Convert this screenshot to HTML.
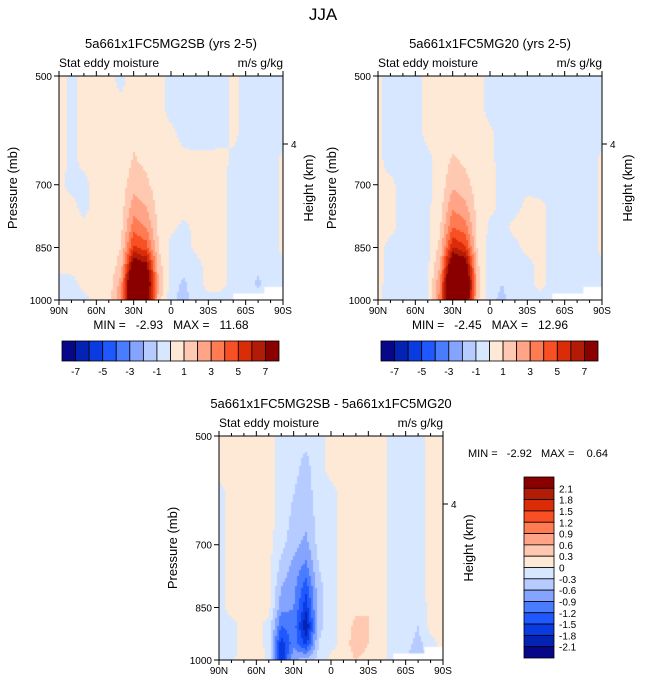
<!DOCTYPE html>
<html><head><meta charset="utf-8">
<style>
body{margin:0;background:#fff;}
#root{position:relative;width:647px;height:684px;overflow:hidden;font-family:"Liberation Sans",sans-serif;}
svg text{font-family:"Liberation Sans",sans-serif;fill:#000;white-space:pre;}
canvas{position:absolute;}
</style></head>
<body>
<div id="root">
<canvas id="c1" width="224" height="224" style="left:59px;top:76px"></canvas>
<canvas id="c2" width="224" height="224" style="left:378px;top:76px"></canvas>
<canvas id="c3" width="224" height="224" style="left:219px;top:436px"></canvas>
<svg id="svg" width="647" height="684" style="position:absolute;left:0;top:0"></svg>
</div>
<script>
// ---- data ----
const lats = [90,80,70,60,50,40,30,20,10,0,-10,-20,-30,-40,-50,-60,-70,-80,-90];
const pressures = [500,550,600,650,700,750,800,850,900,950,1000];
const latTickLabels = ['90N','60N','30N','0','30S','60S','90S'];
const pressureTicks = [500,700,850,1000];
const levelsMain = [-7,-6,-5,-4,-3,-2,-1,0,1,2,3,4,5,6,7];
const levelsMainLabels = ['-7','-5','-3','-1','1','3','5','7'];
const levelsDiff = [-2.1,-1.8,-1.5,-1.2,-0.9,-0.6,-0.3,0,0.3,0.6,0.9,1.2,1.5,1.8,2.1];
const levelsDiffLabels = ['2.1','1.8','1.5','1.2','0.9','0.6','0.3','0','-0.3','-0.6','-0.9','-1.2','-1.5','-1.8','-2.1'];
const palette = ['#07078a','#0422b4','#0a3be0','#1f58ff','#4a7cff','#85a4ff','#b6cbff','#d6e7ff','#fde9d6','#ffc9b1','#ffa487','#ff7c53','#f84f25','#db2c08','#b21b05','#8a0000'];
const field1 = [
[0.3,-0.2,0.3,0.3,0.3,-0.3,0.5,0.5,0.3,-0.3,-0.3,-0.3,-0.3,-0.3,0.2,-0.3,-0.3,-0.3,-0.3],
[0.3,-0.2,0.3,0.3,0.3,0.2,0.5,0.5,0.3,-0.3,-0.3,-0.3,-0.3,-0.3,0.2,-0.3,-0.3,-0.3,-0.3],
[0.3,-0.2,0.3,0.3,0.3,0.3,0.8,0.6,0.4,0.2,-0.2,-0.3,-0.3,-0.3,0.2,-0.3,-0.3,-0.3,-0.3],
[0.3,-0.2,0.2,0.3,0.3,0.4,1.1,0.8,0.4,0.3,0.2,0.2,0.2,0.3,-0.2,-0.3,-0.3,-0.3,0.2],
[0.2,-0.2,-0.2,0.3,0.3,0.5,1.6,1.2,0.5,0.3,0.3,0.3,0.3,0.2,-0.2,-0.3,-0.3,-0.3,0.2],
[0.2,0.2,-0.2,0.3,0.3,0.6,2.5,2.0,0.6,0.3,0.3,0.2,0.2,0.2,-0.2,-0.3,-0.3,-0.3,0.2],
[0.2,0.2,0.2,0.3,0.3,0.8,3.6,3.0,0.8,0.2,-0.2,0.2,0.2,0.2,-0.2,-0.3,-0.3,-0.3,0.2],
[0.2,0.2,0.3,0.3,0.3,1.0,5.2,4.5,1.0,-0.3,-0.4,0.2,0.3,0.2,-0.2,-0.3,-0.4,-0.3,0.2],
[0.2,0.3,0.3,0.3,0.3,1.5,8.5,7.5,1.5,-0.3,-0.6,-0.3,0.3,0.2,-0.2,-0.4,-0.7,-0.3,-0.2],
[-0.3,-0.3,0.3,0.3,0.4,2.5,11.5,9.5,2.0,-0.5,-1.2,-0.3,0.3,0.2,-0.2,-0.4,-1.2,-0.4,-0.3],
[-0.3,-0.3,-0.3,0.3,0.4,3.0,10.5,8.5,1.5,-0.6,-1.5,-0.4,-0.3,-0.2,-0.3,-0.3,-0.5,-0.3,-0.3]];
const field2 = [
[0.2,-0.3,-0.3,-0.3,0.2,0.3,0.4,0.4,0.3,-0.3,-0.3,-0.3,-0.3,-0.3,-0.3,-0.3,-0.3,-0.3,-0.3],
[0.2,-0.3,-0.3,-0.3,0.2,0.3,0.4,0.4,0.3,-0.3,-0.3,-0.3,-0.3,-0.3,-0.3,-0.3,-0.3,-0.3,-0.3],
[0.2,-0.3,-0.3,-0.3,0.2,0.3,0.5,0.5,0.3,0.2,-0.3,-0.3,-0.3,-0.3,-0.3,-0.3,-0.3,-0.3,-0.3],
[0.2,-0.3,-0.3,-0.3,-0.2,0.3,1.2,0.8,0.3,0.2,-0.3,-0.3,-0.3,-0.3,-0.3,-0.3,-0.3,-0.3,0.2],
[0.2,0.2,-0.3,-0.3,-0.2,0.4,1.8,1.4,0.5,0.2,-0.2,-0.3,-0.2,-0.3,-0.3,-0.3,-0.3,-0.3,0.2],
[0.2,0.2,-0.3,-0.3,-0.2,0.6,2.8,2.3,0.6,0.2,-0.2,-0.2,0.2,0.2,-0.2,-0.3,-0.3,-0.3,0.2],
[0.2,0.2,-0.3,-0.3,-0.2,0.9,4.0,3.5,0.7,-0.2,-0.2,0.2,0.3,0.2,-0.2,-0.3,-0.3,-0.3,0.2],
[0.2,-0.2,-0.3,-0.3,-0.2,1.3,6.0,5.2,0.8,-0.3,-0.3,-0.2,0.2,0.2,-0.2,-0.3,-0.3,-0.3,0.2],
[0.2,-0.2,-0.3,-0.3,-0.2,2.0,9.5,8.5,1.2,-0.4,-0.5,-0.3,-0.2,0.2,-0.2,-0.3,-0.7,-0.3,-0.2],
[0.2,-0.3,-0.3,-0.3,-0.2,3.0,12.5,10.5,1.5,-0.7,-1.0,-0.6,-0.2,0.2,-0.2,-0.3,-1.0,-0.4,-0.3],
[0.2,-0.3,-0.3,-0.3,-0.2,3.5,11.5,9.5,1.2,-0.8,-1.2,-0.5,-0.3,-0.2,-0.3,-0.3,-0.5,-0.3,-0.3]];
const field3 = [
[0.1,0.1,0.1,0.1,0.1,-0.1,-0.2,-0.2,-0.1,0.1,0.1,0.1,0.1,0.1,-0.1,-0.1,-0.1,0.1,0.1],
[0.1,0.1,0.1,0.1,0.1,-0.1,-0.2,-0.4,-0.1,0.1,0.1,0.1,0.1,0.1,-0.1,-0.1,-0.1,0.1,0.1],
[-0.1,0.1,0.1,0.1,0.1,-0.1,-0.3,-0.5,-0.1,-0.1,0.1,0.1,0.1,0.1,-0.1,-0.1,-0.1,0.1,0.1],
[-0.1,0.1,0.1,0.1,0.1,-0.1,-0.4,-0.5,-0.2,-0.1,0.1,0.1,0.1,0.1,-0.1,-0.1,-0.1,0.1,0.1],
[-0.1,0.1,0.1,0.1,0.1,-0.2,-0.5,-0.7,-0.2,-0.1,0.1,0.1,0.1,0.1,-0.1,-0.1,-0.1,0.1,0.1],
[-0.1,0.1,0.1,0.1,0.1,-0.4,-0.7,-1.0,-0.3,-0.1,0.1,0.1,0.1,0.1,-0.1,-0.1,-0.1,0.1,0.1],
[-0.1,0.1,0.1,0.1,0.1,-0.6,-0.8,-1.4,-0.4,-0.1,0.1,0.1,0.2,0.1,-0.1,-0.1,-0.1,0.1,0.1],
[-0.1,0.1,0.1,0.1,0.1,-0.8,-0.9,-1.7,-0.4,-0.1,0.1,0.2,0.3,0.1,-0.1,-0.1,-0.2,0.1,0.1],
[-0.1,-0.1,0.1,0.1,-0.1,-1.2,-1.0,-2.1,-0.4,-0.1,0.1,0.4,0.3,0.1,-0.1,-0.1,-0.3,0.1,0.1],
[-0.1,-0.1,0.1,0.1,-0.1,-1.7,-1.0,-1.6,-0.3,-0.1,0.1,0.5,0.3,0.1,-0.1,-0.2,-0.4,-0.1,0.1],
[-0.1,-0.1,0.2,0.3,-0.1,-1.8,-0.6,-0.5,-0.2,0.1,0.1,0.3,0.2,0.1,-0.1,-0.2,-0.6,-0.1,0.1]];

// ---- helpers ----
const NS='http://www.w3.org/2000/svg';
const svg=document.getElementById('svg');
const W=224,H=224;
function xOfLat(lat){return (90-lat)/180*W;}
function yOfP(p){return (Math.log(p)-Math.log(500))/(Math.log(1000)-Math.log(500))*H;}
function colorFor(v,levels){let i=0;while(i<levels.length&&v>=levels[i])i++;return palette[i];}
function sample(field,lat,p){
  let fi=(90-lat)/10; let i0=Math.min(Math.floor(fi),lats.length-2); let tx=fi-i0;
  let lp=Math.log(p); let j0=0;
  while(j0<pressures.length-2&&Math.log(pressures[j0+1])<lp)j0++;
  let ty=(lp-Math.log(pressures[j0]))/(Math.log(pressures[j0+1])-Math.log(pressures[j0]));
  ty=Math.max(0,Math.min(1,ty));
  const a=field[j0][i0],b=field[j0][i0+1],c=field[j0+1][i0],d=field[j0+1][i0+1];
  return (a*(1-tx)+b*tx)*(1-ty)+(c*(1-tx)+d*tx)*ty;
}
function drawField(id,field,levels){
  const ctx=document.getElementById(id).getContext('2d');
  const s=2;
  for(let px=0;px<W;px+=s){for(let py=0;py<H;py+=s){
    const lat=90-(px+s/2)/W*180;
    const p=500*Math.exp((py+s/2)/H*Math.log(2));
    ctx.fillStyle=colorFor(sample(field,lat,p),levels);
    ctx.fillRect(px,py,s,s);
  }}
  ctx.fillStyle='#fff';
  ctx.fillRect(xOfLat(-50),yOfP(980),W-xOfLat(-50),H);
  ctx.fillRect(xOfLat(-75),yOfP(960),W-xOfLat(-75),H);
}
function el(tag,attrs,name,text){
  const e=document.createElementNS(NS,tag);
  for(const k in attrs)e.setAttribute(k,attrs[k]);
  
  
  if(text!==undefined)e.textContent=text;
  svg.appendChild(e);return e;
}
function drawAxes(ox,oy,title,minmax,tag){
  el('text',{x:ox+112,y:oy-28,'font-size':13,'text-anchor':'middle'},tag+'-title',title);
  el('text',{x:ox,y:oy-9,'font-size':12},tag+'-variable-label','Stat eddy moisture');
  el('text',{x:ox+W,y:oy-9,'font-size':12,'text-anchor':'end'},tag+'-units-label','m/s g/kg');
  el('rect',{x:ox,y:oy,width:W,height:H,fill:'none',stroke:'#000','stroke-width':1},tag+'-frame');
  for(let lat=90;lat>=-90;lat-=10){
    const x=ox+xOfLat(lat); const major=lat%30===0; const L=major?5:3;
    el('line',{x1:x,y1:oy,x2:x,y2:oy-L,stroke:'#000'},tag+'-top-tick');
    el('line',{x1:x,y1:oy+H,x2:x,y2:oy+H+L,stroke:'#000'},tag+'-bottom-tick');
  }
  latTickLabels.forEach((t,i)=>{
    el('text',{x:ox+i*W/6,y:oy+H+14,'font-size':10,'text-anchor':'middle'},tag+'-lat-label',t);
  });
  pressureTicks.forEach(p=>{
    const y=oy+yOfP(p);
    el('line',{x1:ox-5,y1:y,x2:ox,y2:y,stroke:'#000'},tag+'-pressure-tick');
    el('text',{x:ox-7,y:y+4,'font-size':10,'text-anchor':'end'},tag+'-pressure-label',String(p));
  });
  const yk=oy+68;
  el('line',{x1:ox+W,y1:yk,x2:ox+W+5,y2:yk,stroke:'#000'},tag+'-height-tick');
  el('text',{x:ox+W+8,y:yk+4,'font-size':10},tag+'-height-label','4');
  el('text',{x:0,y:0,'font-size':13,'text-anchor':'middle',transform:`translate(${ox-42},${oy+112}) rotate(-90)`},tag+'-y-axis-title','Pressure (mb)');
  el('text',{x:0,y:0,'font-size':13,'text-anchor':'middle',transform:`translate(${ox+W+30},${oy+112}) rotate(-90)`},tag+'-right-axis-title','Height (km)');
  if(minmax) el('text',{x:ox+112,y:oy+H+29,'font-size':12,'text-anchor':'middle'},tag+'-min-max',minmax);
}
function hColorbar(x0,y0,w,h,tag){
  const bw=w/16;
  for(let i=0;i<16;i++) el('rect',{x:x0+i*bw,y:y0,width:bw,height:h,fill:palette[i],stroke:'#000','stroke-width':0.8},tag+'-colorbar-box');
  levelsMainLabels.forEach((t,i)=>{
    el('text',{x:x0+(1+2*i)*bw,y:y0+h+14,'font-size':10,'text-anchor':'middle'},tag+'-colorbar-label',t);
  });
}
function vColorbar(x0,y0,w,h){
  const bh=h/16;
  for(let i=0;i<16;i++) el('rect',{x:x0,y:y0+i*bh,width:w,height:bh,fill:palette[15-i],stroke:'#000','stroke-width':0.8},'diff-colorbar-box');
  levelsDiffLabels.forEach((t,i)=>{
    el('text',{x:x0+w+5,y:y0+(i+1)*bh+4,'font-size':10},'diff-colorbar-label',t);
  });
}

drawField('c1',field1,levelsMain);
drawField('c2',field2,levelsMain);
drawField('c3',field3,levelsDiff);
el('text',{x:323,y:20,'font-size':17,'text-anchor':'middle'},'figure-title','JJA');
drawAxes(59,76,'5a661x1FC5MG2SB (yrs 2-5)','MIN =   -2.93   MAX =   11.68','plot1');
drawAxes(378,76,'5a661x1FC5MG20 (yrs 2-5)','MIN =   -2.45   MAX =   12.96','plot2');
drawAxes(219,436,'5a661x1FC5MG2SB - 5a661x1FC5MG20',null,'plot3');
el('text',{x:468,y:457,'font-size':11},'plot3-min-max','MIN =   -2.92   MAX =    0.64');
hColorbar(62,341,217,20,'plot1');
hColorbar(381,341,217,20,'plot2');
vColorbar(524,477,30,181);
</script>
</body></html>
